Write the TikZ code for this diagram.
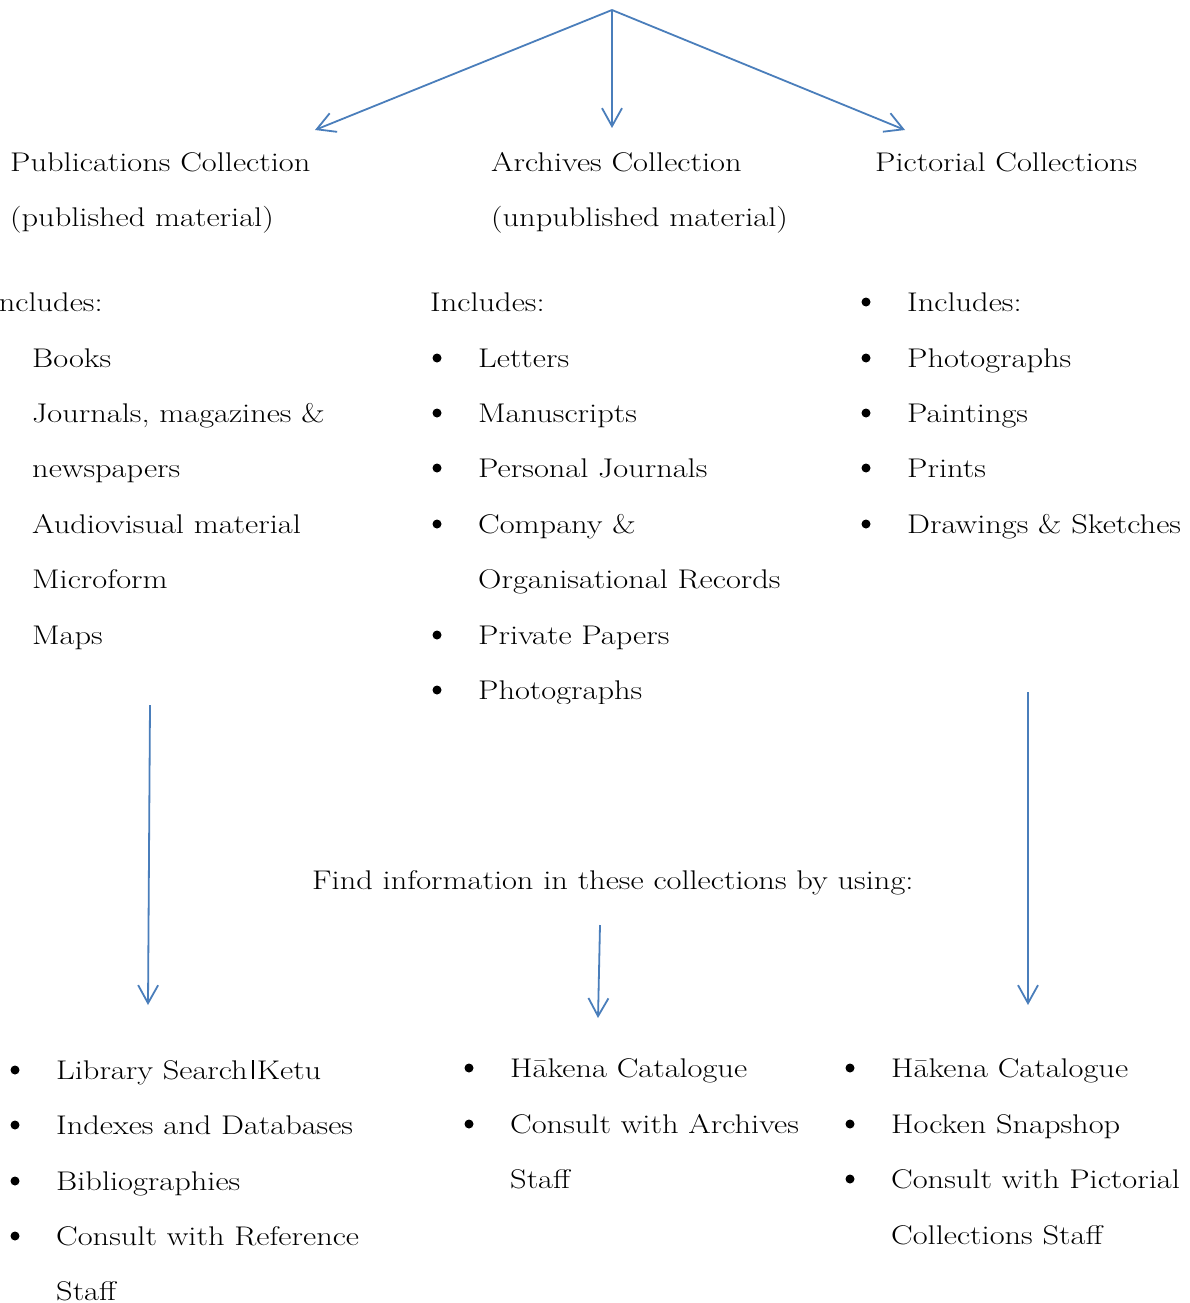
\documentclass[tikz,border=0pt]{standalone}
\usetikzlibrary{arrows.meta}
\definecolor{arr}{RGB}{74,126,187}
\newcommand{\T}[1]{\scalebox{1.2}[1]{#1}}
\begin{document}
\begin{tikzpicture}[x=1pt,y=-1pt,
  txt/.style={anchor=base west, inner sep=0pt, font=\fontsize{27}{30}\selectfont},
  bul/.style={circle, fill=black, inner sep=0pt, minimum size=9pt, yshift=9pt},
  conn/.style={draw=arr, line width=1.8pt, -{Straight Barb[length=18pt,width=20pt]}}]
\useasboundingbox (0,0) rectangle (1189,1303);
\clip (0,0) rectangle (1189,1303);
\fill[white] (0,0) rectangle (1189,1303);
% top arrows
\coordinate (top) at (612,10);
\coordinate (pubTip) at (315,130);
\coordinate (arcTip) at (612,128);
\coordinate (picTip) at (905,130);
\draw[conn] (top) -- (pubTip);
\draw[conn] (top) -- (arcTip);
\draw[conn] (top) -- (picTip);
% headings
\node[txt] (pubH1) at (10,171) {\T{Publications Collection}};
\node[txt] (pubH2) at (10,226) {\T{(published material)}};
\node[txt] (arcH1) at (491,171) {\T{Archives Collection}};
\node[txt] (arcH2) at (491,226) {\T{(unpublished material)}};
\node[txt] (picH1) at (875,171) {\T{Pictorial Collections}};
% left column
\node[txt] (pubInc) at (-12,311) {\T{Includes:}};
\node[txt] (pub1) at (32,367) {\T{Books}};
\node[txt] (pub2) at (32,422) {\T{Journals, magazines \&}};
\node[txt] (pub2b) at (32,477) {\T{newspapers}};
\node[txt] (pub3) at (32,533) {\T{Audiovisual material}};
\node[txt] (pub4) at (32,588) {\T{Microform}};
\node[txt] (pub5) at (32,644) {\T{Maps}};
% middle column
\node[txt] (arcInc) at (430,311) {\T{Includes:}};
\foreach \y/\n in {367/a1,422/a2,477/a3,533/a4,644/a5}{
  \node[bul] (b\n) at (437,\y) {};
}
\node[txt] (arc1) at (478,367) {\T{Letters}};
\node[txt] (arc2) at (478,422) {\T{Manuscripts}};
\node[txt] (arc3) at (478,477) {\T{Personal Journals}};
\node[txt] (arc4) at (478,533) {\T{Company \&}};
\node[txt] (arc4b) at (478,588) {\T{Organisational Records}};
\node[txt] (arc5) at (478,644) {\T{Private Papers}};
\begin{scope}
\clip (400,650) rectangle (840,703);
\node[bul] (ba6) at (437,699) {};
\node[txt] (arc6) at (478,699) {\T{Photographs}};
\end{scope}
% right column
\foreach \y/\n in {311/p0,367/p1,422/p2,477/p3,533/p4}{
  \node[bul] (b\n) at (866,\y) {};
}
\node[txt] (picInc) at (907,311) {\T{Includes:}};
\node[txt] (pic1) at (907,367) {\T{Photographs}};
\node[txt] (pic2) at (907,422) {\T{Paintings}};
\node[txt] (pic3) at (907,477) {\T{Prints}};
\node[txt] (pic4) at (907,533) {\T{Drawings \& Sketches}};
% down arrows
\coordinate (pubS) at (150,705);
\coordinate (pubE) at (148,1005);
\coordinate (picS) at (1028,692);
\coordinate (picE) at (1028,1005);
\coordinate (midS) at (600,925);
\coordinate (midE) at (598,1018);
\draw[conn] (pubS) -- (pubE);
\draw[conn] (picS) -- (picE);
\draw[conn] (midS) -- (midE);
\node[txt] (find) at (312,889) {\T{Find information in these collections by using:}};
% bottom left
\foreach \y/\n in {1079/l1,1134/l2,1190/l3,1245/l4}{
  \node[bul] (b\n) at (15,\y) {};
}
\node[txt] (fl1) at (56,1079) {\T{Library Search\hspace{0.12em}\rule{0.06em}{0.7em}\hspace{0.1em}Ketu}};
\node[txt] (fl2) at (56,1134) {\T{Indexes and Databases}};
\node[txt] (fl3) at (56,1190) {\T{Bibliographies}};
\node[txt] (fl4) at (56,1245) {\T{Consult with Reference}};
\node[txt] (fl4b) at (56,1300) {\T{Staff}};
% bottom middle
\foreach \y/\n in {1077/m1,1133/m2}{
  \node[bul] (b\n) at (469,\y) {};
}
\node[txt] (fm1) at (510,1077) {\T{Hākena Catalogue}};
\node[txt] (fm2) at (510,1133) {\T{Consult with Archives}};
\node[txt] (fm2b) at (510,1188) {\T{Staff}};
% bottom right
\foreach \y/\n in {1077/r1,1133/r2,1188/r3}{
  \node[bul] (b\n) at (850,\y) {};
}
\node[txt] (fr1) at (891,1077) {\T{Hākena Catalogue}};
\node[txt] (fr2) at (891,1133) {\T{Hocken Snapshop}};
\node[txt] (fr3) at (891,1188) {\T{Consult with Pictorial}};
\node[txt] (fr3b) at (891,1244) {\T{Collections Staff}};
\end{tikzpicture}
\end{document}
